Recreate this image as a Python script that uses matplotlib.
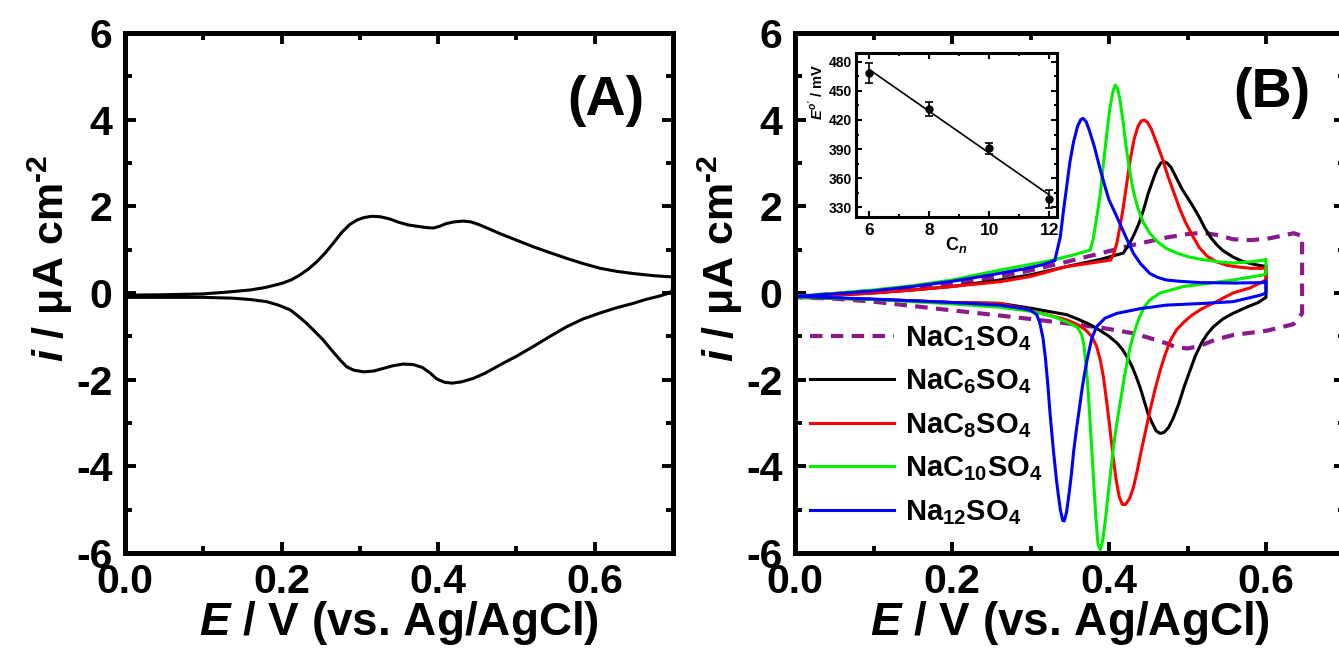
import numpy as np
import matplotlib
matplotlib.use("Agg")
import matplotlib.pyplot as plt
from matplotlib.ticker import MultipleLocator, FixedLocator

plt.rcParams['font.family'] = ['Liberation Sans', 'DejaVu Sans']
plt.rcParams['font.weight'] = 'bold'
plt.rcParams['axes.unicode_minus'] = False
plt.rcParams['mathtext.fontset'] = 'custom'
plt.rcParams['mathtext.rm'] = 'Liberation Sans:bold'
plt.rcParams['mathtext.bf'] = 'Liberation Sans:bold'
plt.rcParams['mathtext.it'] = 'Liberation Sans:italic:bold'
plt.rcParams['mathtext.sf'] = 'Liberation Sans:bold'

# ---------------- Panel A data ----------------
a_fwd_E = [0.0, 0.05, 0.1, 0.13, 0.16, 0.18, 0.2, 0.212, 0.223, 0.234, 0.245, 0.256, 0.266, 0.277,
           0.287, 0.296, 0.305, 0.315, 0.326, 0.338, 0.35, 0.362, 0.373, 0.385, 0.394, 0.402, 0.41,
           0.42, 0.432, 0.442, 0.452, 0.465, 0.479, 0.5, 0.521, 0.543, 0.564, 0.585, 0.607, 0.628,
           0.649, 0.675, 0.70]
a_fwd_i = [-0.05, -0.04, -0.02, 0.02, 0.07, 0.13, 0.22, 0.30, 0.41, 0.55, 0.72, 0.93, 1.15, 1.40,
           1.58, 1.68, 1.74, 1.77, 1.76, 1.71, 1.63, 1.57, 1.54, 1.51, 1.50, 1.54, 1.60,
           1.64, 1.66, 1.64, 1.58, 1.48, 1.37, 1.22, 1.07, 0.93, 0.80, 0.68, 0.57, 0.50,
           0.45, 0.40, 0.37]
a_rev_E = [0.70, 0.699, 0.692, 0.683, 0.665, 0.649, 0.628, 0.607, 0.585, 0.564, 0.543, 0.521, 0.5,
           0.479, 0.46, 0.445, 0.43, 0.418, 0.408, 0.398, 0.39, 0.38, 0.368, 0.355, 0.342, 0.33,
           0.318, 0.305, 0.292, 0.283, 0.275, 0.264, 0.253, 0.242, 0.232, 0.221, 0.211, 0.196,
           0.181, 0.16, 0.138, 0.1, 0.05, 0.0]
a_rev_i = [0.37, 0.05, -0.02, -0.07, -0.15, -0.24, -0.34, -0.46, -0.60, -0.78, -1.00, -1.24, -1.46,
           -1.66, -1.85, -1.97, -2.05, -2.08, -2.06, -1.98, -1.85, -1.72, -1.65, -1.64, -1.68, -1.74,
           -1.80, -1.82, -1.78, -1.70, -1.55, -1.32, -1.08, -0.88, -0.70, -0.53, -0.39, -0.28,
           -0.20, -0.15, -0.12, -0.10, -0.10, -0.10]

# ---------------- Panel B data ----------------
c1_E = [0.0, 0.05, 0.1, 0.15, 0.2, 0.261, 0.3, 0.346, 0.39, 0.431, 0.473, 0.5, 0.52, 0.54, 0.558,
        0.58, 0.601, 0.62, 0.635, 0.646,
        0.646, 0.635, 0.601, 0.558, 0.535, 0.516, 0.5, 0.485, 0.473, 0.45, 0.431, 0.39, 0.346,
        0.3, 0.261, 0.2, 0.15, 0.1, 0.05, 0.0]
c1_i = [-0.08, -0.02, 0.05, 0.13, 0.22, 0.38, 0.52, 0.72, 0.92, 1.11, 1.28, 1.36, 1.39, 1.33, 1.24,
        1.22, 1.25, 1.32, 1.38, 1.32,
        -0.47, -0.72, -0.87, -0.97, -1.08, -1.22, -1.28, -1.25, -1.16, -1.03, -0.93, -0.80, -0.70,
        -0.60, -0.52, -0.40, -0.30, -0.20, -0.13, -0.10]

c6_E = [0.0, 0.05, 0.1, 0.15, 0.2, 0.261, 0.3, 0.346, 0.39, 0.418, 0.425, 0.432, 0.438, 0.444, 0.45,
        0.456, 0.461, 0.466, 0.47, 0.474, 0.479, 0.486, 0.493, 0.5, 0.507, 0.515, 0.522, 0.53,
        0.538, 0.545, 0.558, 0.57, 0.585, 0.597, 0.6,
        0.6, 0.59, 0.575, 0.558, 0.545, 0.533, 0.525, 0.518, 0.51, 0.503, 0.496, 0.489, 0.482,
        0.476, 0.47, 0.465, 0.46, 0.455, 0.45, 0.445, 0.44, 0.435, 0.43, 0.424, 0.417, 0.41, 0.4,
        0.39, 0.376, 0.36, 0.346, 0.3, 0.261, 0.2, 0.15, 0.1, 0.05, 0.0]
c6_i = [-0.1, -0.05, 0.0, 0.07, 0.15, 0.3, 0.42, 0.61, 0.78, 0.92, 1.1, 1.35, 1.6, 1.92, 2.3,
        2.61, 2.85, 3.0, 3.03, 3.0, 2.9, 2.65, 2.4, 2.2, 2.0, 1.75, 1.5, 1.27,
        1.1, 0.98, 0.83, 0.73, 0.66, 0.62, 0.62,
        -0.1, -0.22, -0.33, -0.47, -0.6, -0.78, -0.95, -1.15, -1.45, -1.8, -2.15, -2.55, -2.88,
        -3.1, -3.22, -3.24, -3.18, -3.0, -2.8, -2.5, -2.2, -1.95, -1.72, -1.5, -1.3, -1.15, -1.0,
        -0.88, -0.73, -0.6, -0.5, -0.35, -0.24, -0.22, -0.18, -0.15, -0.12, -0.1]

c8_E = [0.0, 0.05, 0.1, 0.15, 0.2, 0.261, 0.3, 0.346, 0.38, 0.402, 0.406, 0.41, 0.414, 0.418, 0.422,
        0.427, 0.432, 0.437, 0.441, 0.445, 0.449, 0.454, 0.461, 0.468, 0.475, 0.482, 0.49, 0.497,
        0.507, 0.515, 0.525, 0.537, 0.55, 0.565, 0.58, 0.597, 0.6,
        0.6, 0.58, 0.558, 0.545, 0.537, 0.525, 0.516, 0.505, 0.495, 0.486, 0.478, 0.471, 0.465,
        0.459, 0.453, 0.447, 0.441, 0.436, 0.431, 0.426, 0.421, 0.417, 0.413, 0.409, 0.405, 0.401,
        0.397, 0.393, 0.389, 0.384, 0.378, 0.37, 0.36, 0.346, 0.3, 0.261, 0.2, 0.15, 0.1, 0.05, 0.0]
c8_i = [-0.1, -0.05, 0.0, 0.07, 0.15, 0.26, 0.38, 0.61, 0.7, 0.76, 0.9, 1.15, 1.53, 1.95, 2.45,
        3.07, 3.55, 3.85, 3.97, 3.99, 3.94, 3.78, 3.45, 3.1, 2.7, 2.35, 1.95, 1.65,
        1.30, 1.05, 0.85, 0.72, 0.64, 0.6, 0.57, 0.57, 0.6,
        0.3, 0.12, 0.0, -0.12, -0.2, -0.3, -0.39, -0.52, -0.68, -0.85, -1.1, -1.45, -1.8,
        -2.2, -2.65, -3.15, -3.65, -4.1, -4.5, -4.75, -4.88, -4.88, -4.7, -4.3, -3.75, -3.1,
        -2.5, -1.95, -1.55, -1.22, -1.0, -0.85, -0.73, -0.62, -0.4, -0.24, -0.22, -0.18, -0.15, -0.12, -0.1]

c10_E = [0.0, 0.05, 0.1, 0.15, 0.2, 0.261, 0.3, 0.329, 0.355, 0.376, 0.38, 0.384, 0.389, 0.393, 0.397,
         0.401, 0.405, 0.408, 0.411, 0.414, 0.418, 0.422, 0.426, 0.431, 0.437, 0.444, 0.452, 0.462,
         0.473, 0.485, 0.5, 0.516, 0.54, 0.558, 0.58, 0.597, 0.6,
         0.6, 0.597, 0.558, 0.495, 0.465, 0.452, 0.445, 0.439, 0.435, 0.431, 0.427, 0.423, 0.419,
         0.415, 0.41, 0.406, 0.402, 0.398, 0.395, 0.392, 0.389, 0.386, 0.383, 0.38, 0.377, 0.374,
         0.371, 0.368, 0.365, 0.36, 0.35, 0.33, 0.304, 0.261, 0.2, 0.15, 0.1, 0.05, 0.0]
c10_i = [-0.08, -0.01, 0.07, 0.17, 0.3, 0.53, 0.66, 0.76, 0.88, 0.99, 1.25, 1.7, 2.3, 3.0, 3.65,
         4.25, 4.65, 4.8, 4.72, 4.45, 3.95, 3.35, 2.85, 2.35, 1.95, 1.62, 1.38, 1.18,
         1.03, 0.93, 0.84, 0.78, 0.72, 0.69, 0.72, 0.76, 0.78,
         0.45, 0.42, 0.30, 0.15, 0.0, -0.16, -0.32, -0.55, -0.75, -0.98, -1.25, -1.6, -2.0,
         -2.45, -3.0, -3.5, -4.15, -4.8, -5.3, -5.7, -5.93, -5.8, -5.1, -4.2, -3.3, -2.4,
         -1.7, -1.2, -0.95, -0.8, -0.7, -0.55, -0.43, -0.33, -0.25, -0.2, -0.15, -0.12, -0.1]

c12_E = [0.0, 0.05, 0.1, 0.15, 0.2, 0.25, 0.29, 0.315, 0.331, 0.338, 0.342, 0.346, 0.35, 0.355,
         0.36, 0.364, 0.367, 0.371, 0.375, 0.381, 0.389, 0.395, 0.40, 0.41, 0.42, 0.431, 0.44,
         0.452, 0.462, 0.473, 0.49, 0.516, 0.56, 0.597, 0.6,
         0.6, 0.593, 0.558, 0.52, 0.473, 0.44, 0.41, 0.395, 0.384, 0.378, 0.372, 0.368, 0.365,
         0.362, 0.359, 0.355, 0.352, 0.349, 0.346, 0.343, 0.341, 0.338, 0.335, 0.333, 0.329,
         0.325, 0.322, 0.319, 0.316, 0.312, 0.308, 0.30, 0.29, 0.261, 0.2, 0.15, 0.1, 0.05, 0.0]
c12_i = [-0.08, -0.02, 0.05, 0.15, 0.27, 0.42, 0.55, 0.65, 0.75, 1.3, 1.9, 2.44, 3.0, 3.5,
         3.85, 4.0, 4.03, 3.95, 3.75, 3.4, 2.84, 2.45, 2.15, 1.76, 1.35, 0.92, 0.68,
         0.45, 0.36, 0.30, 0.27, 0.24, 0.23, 0.24, 0.28,
         0.0, -0.05, -0.20, -0.24, -0.28, -0.36, -0.47, -0.58, -0.78, -1.05, -1.55, -1.95, -2.3,
         -2.7, -3.08, -3.65, -4.2, -4.65, -5.05, -5.26, -5.25, -5.0, -4.6, -4.3, -3.6,
         -2.8, -2.1, -1.5, -1.05, -0.7, -0.5, -0.4, -0.36, -0.28, -0.22, -0.18, -0.14, -0.11, -0.08]

series_labels = [r"NaC$_1$SO$_4$", r"NaC$_6$SO$_4$", r"NaC$_8$SO$_4$",
                 r"NaC$_{10}$SO$_4$", r"Na$_{12}$SO$_4$"]
series_colors = ["#8B1A8B", "black", "#FF0000", "#00EE00", "#0000FF"]

# ---------------- Inset data ----------------
inset_cn = [6, 8, 10, 12]
inset_E0 = [468.7, 431.3, 390.7, 338.6]
inset_err = [10, 7, 6, 9]

# ---------------- figure ----------------
W, H = 1339, 650
fig = plt.figure(figsize=(W / 100, H / 100), dpi=100)

def px_axes(l, r, t, b):
    return [l / W, (H - b) / H, (r - l) / W, (b - t) / H]

TICK_FS = 29.5
XLABEL_FS = 33
YLABEL_FS = 31

def style_main(ax, width_px):
    ax.set_ylim(-6, 6)
    ax.set_xlim(0, 0.7)
    ax.xaxis.set_major_locator(FixedLocator([0.0, 0.2, 0.4, 0.6]))
    ax.xaxis.set_minor_locator(MultipleLocator(0.1))
    ax.yaxis.set_major_locator(MultipleLocator(2))
    ax.yaxis.set_minor_locator(MultipleLocator(1))
    ax.set_xticklabels(["0.0", "0.2", "0.4", "0.6"])
    for sp in ax.spines.values():
        sp.set_linewidth(3.6)
    ax.tick_params(which='both', direction='in', top=True, right=True, width=2.8,
                   labelsize=TICK_FS)
    ax.tick_params(which='major', length=8)
    ax.tick_params(which='minor', length=5)
    ax.tick_params(axis='y', pad=9)
    ax.tick_params(axis='x', pad=7)
    for lab in ax.get_xticklabels() + ax.get_yticklabels():
        lab.set_fontweight('bold')
    ax.set_xlabel(r"$E$ / V (vs. Ag/AgCl)", fontsize=XLABEL_FS, fontweight='bold', labelpad=-1)
    ax.set_ylabel(r"$i$ / μA cm$^{\text{-2}}$", fontsize=YLABEL_FS, fontweight='bold')
    ax.yaxis.set_label_coords(-50.0 / width_px, (553 - 258) / 520.0)

# Panel A
axA = fig.add_axes(px_axes(125, 673, 33, 553))
axA.plot(a_fwd_E + a_rev_E, a_fwd_i + a_rev_i, color='black', lw=2.2, solid_joinstyle='round')
style_main(axA, 548.0)
axA.text(0.878, 0.87, "(A)", transform=axA.transAxes, fontsize=40, fontweight='bold',
         ha='center', va='center')

# Panel B
axB = fig.add_axes(px_axes(795, 1344.5, 33, 553))
curves = [(c1_E, c1_i), (c6_E, c6_i), (c8_E, c8_i), (c10_E, c10_i), (c12_E, c12_i)]
handles = []
for k, ((E, I), lab, col) in enumerate(zip(curves, series_labels, series_colors)):
    if k == 0:
        h, = axB.plot(E, I, color=col, lw=3.0, ls=(0, (3, 2)), label=lab)
    else:
        h, = axB.plot(E, I, color=col, lw=2.2, label=lab, solid_joinstyle='round')
    handles.append(h)
style_main(axB, 549.5)
axB.text(0.867, 0.885, "(B)", transform=axB.transAxes, fontsize=40, fontweight='bold',
         ha='center', va='center')
leg = axB.legend(handles=handles, loc='upper left', bbox_to_anchor=(0.027, 0.44),
                 frameon=False, prop={'weight': 'bold', 'size': 21},
                 handlelength=2.9, handletextpad=0.35, labelspacing=0.5, borderpad=0,
                 borderaxespad=0)

# Inset
axI = fig.add_axes(px_axes(856, 1056.7, 52.7, 217.3))
axI.errorbar(inset_cn, inset_E0, yerr=inset_err, fmt='o', color='black', ms=5,
             capsize=3, elinewidth=1.2, capthick=1.2)
coef = np.polyfit(inset_cn, inset_E0, 1)
xs = np.array([min(inset_cn), max(inset_cn)])
axI.plot(xs, np.polyval(coef, xs), color='black', lw=1.2)
axI.set_xlim(5.55, 12.25)
axI.set_ylim(319.5, 489.5)
axI.xaxis.set_major_locator(MultipleLocator(2))
axI.xaxis.set_minor_locator(MultipleLocator(1))
axI.yaxis.set_major_locator(MultipleLocator(30))
axI.yaxis.set_minor_locator(MultipleLocator(15))
for sp in axI.spines.values():
    sp.set_linewidth(2.2)
axI.tick_params(which='both', direction='in', top=True, right=True, width=1.5)
axI.tick_params(which='major', length=4)
axI.tick_params(which='minor', length=2.5)
axI.tick_params(axis='x', labelsize=12.5, pad=4)
axI.tick_params(axis='y', labelsize=10, pad=3)
for lab in axI.get_xticklabels() + axI.get_yticklabels():
    lab.set_fontweight('bold')
axI.set_xlabel(r"C$_n$", fontsize=13, fontweight='bold', labelpad=-2)
axI.set_ylabel(r"$E^{o'}$ / mV", fontsize=10.5, fontweight='bold')
axI.yaxis.set_label_coords(-0.15, (217.3 - 92) / 164.6)

fig.savefig("out.png", dpi=100)
